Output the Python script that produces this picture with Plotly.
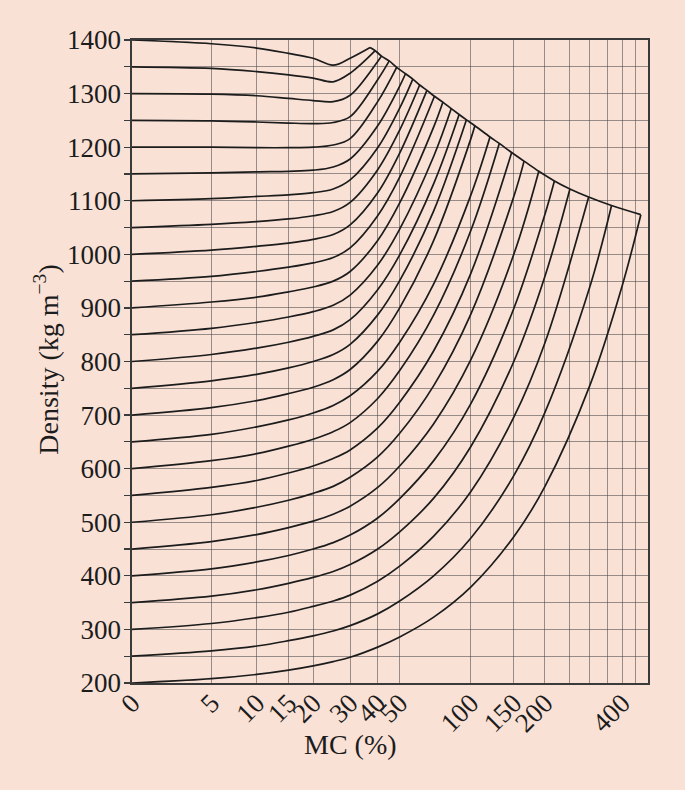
import numpy as np
import plotly.graph_objects as go

# ---------------- data ----------------
mc_grid = [0, 5, 10, 15, 20, 25, 30, 40, 50, 70, 100, 150, 200, 300, 400]

x_tick_mc = [0, 5, 10, 15, 20, 30, 40, 50, 100, 150, 200, 400]
x_tick_text = ["0", "5", "10", "15", "20", "30", "40", "50", "100", "150", "200", "400"]
x_extra_grid_mc = [250, 300, 350, 450]
x_max_mc = 500

start_density = [200, 250, 300, 350, 400, 450, 500, 550, 600, 650, 700, 750, 800,
                 850, 900, 950, 1000, 1050, 1100, 1150, 1200, 1250, 1300, 1350, 1400]

# end of each curve on the saturation envelope
end_mc = [470, 364, 297, 251, 218, 189, 165, 147, 131, 120, 104, 96, 89.5,
          83, 76.5, 70.5, 65.5, 61, 57, 53, 48.5, 45, 41.6, 39, 37]
end_density = [1074, 1091, 1107, 1122, 1137, 1155, 1174, 1190, 1207, 1219, 1240, 1251, 1261,
               1272, 1284, 1295, 1306, 1316, 1327, 1337, 1349, 1361, 1370, 1380, 1386]

c200 = [200, 208, 216, 224, 232, 240, 248, 267, 286, 323, 379, 473, 567, 755, 942]
c250 = [250, 260, 269, 279, 288, 297, 307, 329, 353, 400, 470, 587, 705, 939]
c300 = [300, 311, 322, 332, 343, 353, 364, 390, 418, 474, 557, 696, 835]
c350 = [350, 362, 374, 386, 397, 408, 421, 450, 482, 545, 641, 800, 959]
c400 = [400, 413, 426, 438, 450, 462, 476, 508, 544, 615, 721, 899, 1075]
c450 = [450, 464, 477, 490, 502, 515, 530, 565, 605, 684, 803, 1000]
c500 = [500, 514, 528, 541, 554, 567, 584, 622, 666, 755, 888, 1108]
c550 = [550, 565, 578, 592, 605, 619, 635, 676, 724, 820, 964]
c600 = [600, 615, 628, 642, 655, 669, 686, 731, 783, 887, 1044]
c650 = [650, 664, 678, 691, 704, 718, 736, 782, 836, 945, 1110]
c700 = [700, 714, 727, 740, 752, 766, 785, 838, 900, 1026, 1215]
c750 = [750, 764, 776, 788, 800, 813, 832, 887, 951, 1081]
c800 = [800, 813, 825, 836, 847, 859, 878, 934, 999, 1132]
c850 = [850, 862, 873, 883, 893, 905, 924, 980, 1047, 1183]
c900 = [900, 911, 920, 930, 939, 950, 968, 1026, 1096, 1238]
c950 = [950, 959, 968, 976, 984, 994, 1012, 1072, 1144]
c1000 = [1000, 1008, 1015, 1021, 1028, 1037, 1055, 1115, 1189]
c1050 = [1050, 1056, 1061, 1066, 1072, 1080, 1097, 1158, 1232]
c1100 = [1100, 1104, 1108, 1111, 1115, 1122, 1139, 1199, 1273]
c1150 = [1150, 1152, 1154, 1155, 1157, 1163, 1178, 1240, 1314]
c1200 = [1200, 1200, 1199, 1199, 1200, 1204, 1216, 1285]
c1250 = [1250, 1249, 1247, 1245, 1244, 1246, 1257, 1326]
c1300 = [1300, 1299, 1296, 1291, 1287, 1285, 1297, 1360]
c1350 = [1350, 1347, 1341, 1335, 1329, 1322, 1338]
c1400 = [1400, 1393, 1385, 1375, 1366, 1353, 1366]

curves = [c200, c250, c300, c350, c400, c450, c500, c550, c600, c650, c700, c750, c800,
          c850, c900, c950, c1000, c1050, c1100, c1150, c1200, c1250, c1300, c1350, c1400]


# ---------------- x-axis scale of the chart (stretched-log MC scale) ----------------
def xs(m):
    m = np.asarray(m, dtype=float)
    return np.log10(1.0 + m / 4.6) + 7.66e-5 * m


BG = "#F9E1D6"
INK = "#1c1c1c"
GRID = "rgba(70,70,70,0.55)"
FONT = "Liberation Serif, Times New Roman, serif"

fig = go.Figure()

for vals, em, ed in zip(curves, end_mc, end_density):
    mcs = list(mc_grid[:len(vals)]) + [em]
    ds = list(vals) + [ed]
    fig.add_trace(go.Scatter(
        x=xs(mcs), y=ds, mode="lines",
        line=dict(color=INK, width=1.7, shape="spline", smoothing=1.0),
        hoverinfo="skip", showlegend=False))

# saturation envelope
fig.add_trace(go.Scatter(
    x=xs(end_mc), y=end_density, mode="lines",
    line=dict(color=INK, width=1.7, shape="spline", smoothing=1.0),
    hoverinfo="skip", showlegend=False))

fig.update_layout(
    width=685, height=790,
    margin=dict(l=132, r=37, t=40, b=107),
    paper_bgcolor=BG, plot_bgcolor=BG,
    font=dict(family=FONT, size=27, color=INK),
    showlegend=False,
)

fig.update_xaxes(
    range=[0, float(xs(x_max_mc))],
    tickmode="array", tickvals=xs(x_tick_mc), ticktext=x_tick_text,
    tickangle=-45, ticks="", ticklabelstandoff=-8,
    tickfont=dict(family=FONT, size=27, color=INK),
    showgrid=True, gridcolor=GRID, gridwidth=1,
    minor=dict(tickmode="array", tickvals=xs(x_extra_grid_mc), showgrid=True,
               gridcolor=GRID, gridwidth=1, ticks=""),
    showline=True, mirror=True, linecolor="#3a3a3a", linewidth=1.6,
    zeroline=False,
)

fig.update_yaxes(
    range=[200, 1400], tickmode="linear", tick0=200, dtick=100,
    ticks="outside", ticklen=6, tickcolor="#3a3a3a", tickwidth=1.2,
    ticklabelstandoff=-2,
    tickfont=dict(family=FONT, size=27, color=INK),
    showgrid=True, gridcolor=GRID, gridwidth=1,
    minor=dict(dtick=50, tick0=200, showgrid=True, gridcolor=GRID, gridwidth=1,
               ticks="outside", ticklen=6, tickcolor="#3a3a3a"),
    showline=True, mirror=True, linecolor="#3a3a3a", linewidth=1.6,
    zeroline=False,
)

fig.add_annotation(text="MC (%)", xref="paper", yref="paper",
                   x=0.4225, y=-0.096, xanchor="center", yanchor="middle",
                   showarrow=False, font=dict(family=FONT, size=28, color=INK))
fig.add_annotation(text="Density (kg m<sup>−3</sup>)", xref="paper", yref="paper",
                   x=-0.165, y=0.5026, xanchor="center", yanchor="middle", textangle=-90,
                   showarrow=False, font=dict(family=FONT, size=28, color=INK))

fig.write_html(
    "out.html",
    config={"displayModeBar": False, "staticPlot": True},
    post_script="document.body.style.margin='0';"
                "document.body.style.background='" + BG + "';"
                "document.documentElement.style.background='" + BG + "';",
)
